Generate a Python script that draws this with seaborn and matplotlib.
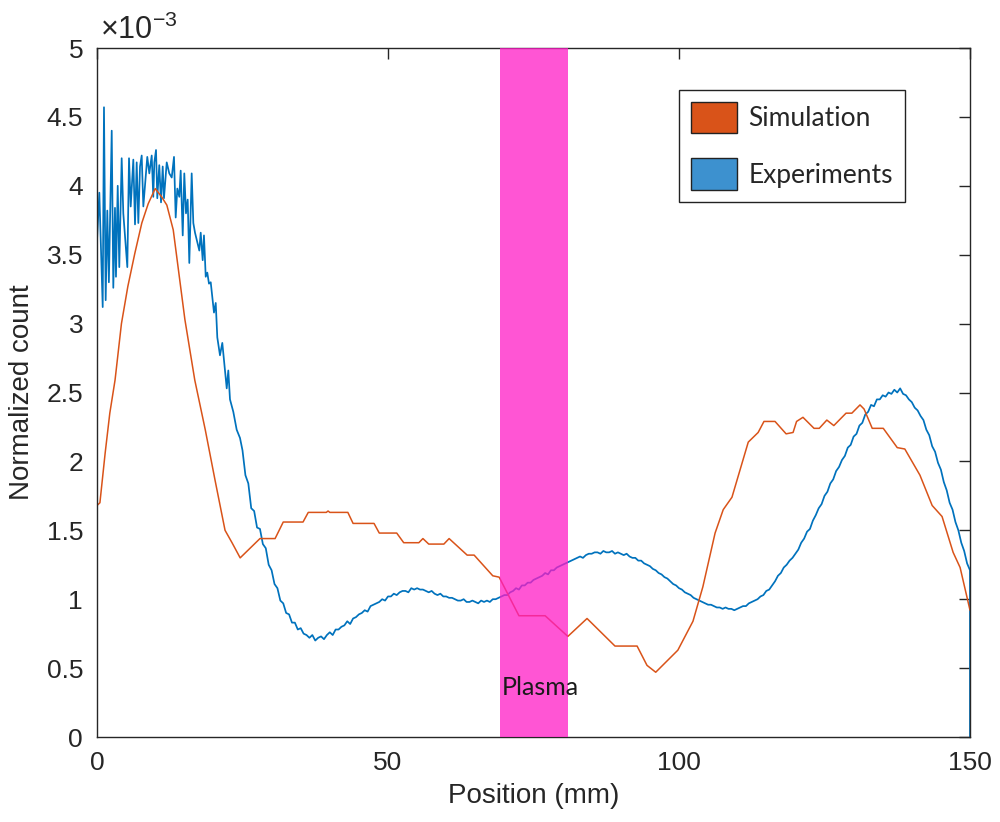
import numpy as np
import pandas as pd
import matplotlib
matplotlib.use("Agg")
import matplotlib.pyplot as plt
from matplotlib.patches import Patch
from matplotlib.ticker import FuncFormatter
import seaborn as sns

# ---- Simulation profile (position in mm, normalized count in units of 1e-3)
sim_pos = [0.0, 0.5, 1.4, 2.2, 3.1, 4.2, 5.3, 6.5, 7.7, 8.8, 10.0, 11.1, 12.0,
           13.1, 15.1, 16.8, 18.6, 20.3, 22.0, 23.2, 24.6, 28.0, 30.6, 32.0,
           35.4, 36.3, 39.4, 39.7, 40.0, 43.1, 44.0, 47.6, 48.5, 51.5, 52.7,
           55.3, 56.0, 57.0, 59.6, 60.5, 63.6, 64.8, 68.0, 69.1, 72.5, 77.0,
           80.9, 84.2, 89.0, 92.8, 94.5, 96.0, 99.8, 102.4, 104.1, 106.2,
           107.6, 109.1, 111.9, 113.6, 114.6, 116.5, 118.4, 119.6, 120.2,
           121.3, 123.2, 124.1, 125.4, 126.6, 128.7, 129.7, 131.1, 131.8,
           133.2, 135.1, 137.5, 138.8, 141.4, 143.5, 145.2, 147.1, 148.3, 150.0]
sim_count = [1.68, 1.70, 2.06, 2.35, 2.59, 3.00, 3.27, 3.51, 3.73, 3.87, 3.98,
             3.92, 3.86, 3.68, 3.03, 2.59, 2.23, 1.86, 1.50, 1.41, 1.30, 1.44,
             1.44, 1.56, 1.56, 1.63, 1.63, 1.64, 1.63, 1.63, 1.55, 1.55, 1.48,
             1.48, 1.41, 1.41, 1.44, 1.40, 1.40, 1.44, 1.32, 1.32, 1.17, 1.16,
             0.88, 0.88, 0.73, 0.86, 0.66, 0.66, 0.52, 0.47, 0.63, 0.84, 1.09,
             1.48, 1.65, 1.74, 2.14, 2.21, 2.29, 2.29, 2.20, 2.21, 2.29, 2.32,
             2.24, 2.24, 2.30, 2.26, 2.35, 2.35, 2.41, 2.38, 2.24, 2.24, 2.10,
             2.09, 1.90, 1.68, 1.60, 1.34, 1.23, 0.92]

# ---- Experimental profile, noisy head (irregular sampling)
exp_head_pos = [0.0, 0.40, 0.98, 1.20, 1.49, 1.77, 2.04, 2.53, 2.80, 3.09, 3.26,
                3.56, 3.83, 4.24, 4.52, 5.21, 5.50, 5.79, 6.24, 6.53, 6.82,
                7.10, 7.39, 7.68, 7.96, 8.64, 8.99, 9.40, 9.67, 9.85, 10.14,
                10.36, 10.70, 11.00, 11.29, 11.51, 11.98, 12.42, 12.84, 13.23,
                13.52, 13.80, 14.14, 14.38, 14.73, 15.00, 15.29, 15.58, 15.86,
                16.27, 16.55, 16.84, 17.58, 17.82, 18.16, 18.38, 18.68, 18.95,
                19.24, 19.54, 19.88, 20.10, 20.40, 20.67, 21.13, 21.53, 22.29,
                22.56, 22.85, 23.42, 24.00, 24.57]
exp_head_count = [3.60, 3.95, 3.12, 4.57, 3.17, 3.82, 3.30, 4.40, 3.26, 3.84,
                  3.34, 4.00, 3.41, 4.20, 3.80, 3.41, 4.20, 3.85, 4.19, 3.72,
                  4.17, 3.73, 4.14, 4.22, 3.85, 4.21, 4.09, 4.22, 3.92, 4.17,
                  4.26, 3.91, 4.15, 3.88, 4.14, 3.91, 4.17, 4.09, 4.06, 4.21,
                  3.77, 3.98, 3.92, 4.11, 3.64, 4.09, 3.80, 3.90, 3.44, 4.09,
                  3.73, 3.66, 3.53, 3.66, 3.46, 3.64, 3.34, 3.37, 3.29, 3.30,
                  3.17, 3.08, 3.15, 2.90, 2.77, 2.86, 2.53, 2.66, 2.45, 2.36,
                  2.23, 2.17]

# ---- Experimental profile, 0.5 mm steps from 25 mm
exp_tail_start = 25.0
exp_tail_step = 0.5
exp_tail_count = [
    2.08, 1.90, 1.84, 1.66, 1.64, 1.52, 1.51, 1.40, 1.37, 1.25,
    1.21, 1.11, 1.08, 0.99, 0.97, 0.90, 0.89, 0.83, 0.83, 0.78,
    0.79, 0.75, 0.74, 0.72, 0.74, 0.70, 0.72, 0.73, 0.71, 0.74,
    0.76, 0.74, 0.78, 0.78, 0.80, 0.81, 0.84, 0.82, 0.86, 0.87,
    0.89, 0.90, 0.92, 0.91, 0.95, 0.96, 0.97, 0.98, 1.00, 0.99,
    1.02, 1.02, 1.04, 1.03, 1.05, 1.06, 1.06, 1.05, 1.08, 1.07,
    1.08, 1.07, 1.07, 1.06, 1.05, 1.06, 1.04, 1.03, 1.04, 1.02,
    1.02, 1.01, 1.01, 1.00, 0.99, 0.99, 1.00, 0.98, 0.98, 0.99,
    0.98, 0.97, 0.99, 0.98, 0.99, 0.98, 1.00, 1.00, 1.01, 1.02,
    1.03, 1.03, 1.05, 1.06, 1.08, 1.07, 1.10, 1.10, 1.12, 1.12,
    1.14, 1.15, 1.16, 1.17, 1.19, 1.18, 1.21, 1.21, 1.23, 1.24,
    1.25, 1.26, 1.27, 1.28, 1.29, 1.30, 1.31, 1.30, 1.32, 1.33,
    1.33, 1.34, 1.34, 1.33, 1.35, 1.34, 1.34, 1.35, 1.33, 1.34,
    1.33, 1.32, 1.33, 1.31, 1.30, 1.30, 1.28, 1.28, 1.26, 1.25,
    1.24, 1.22, 1.21, 1.19, 1.18, 1.16, 1.15, 1.13, 1.11, 1.10,
    1.08, 1.07, 1.05, 1.04, 1.03, 1.01, 1.00, 0.99, 0.98, 0.97,
    0.96, 0.96, 0.95, 0.94, 0.94, 0.93, 0.94, 0.93, 0.93, 0.92,
    0.93, 0.94, 0.95, 0.95, 0.97, 0.98, 0.99, 1.00, 1.02, 1.03,
    1.06, 1.07, 1.10, 1.13, 1.17, 1.19, 1.23, 1.25, 1.28, 1.30,
    1.33, 1.36, 1.41, 1.44, 1.49, 1.51, 1.57, 1.61, 1.66, 1.69,
    1.75, 1.78, 1.84, 1.87, 1.93, 1.96, 2.01, 2.04, 2.10, 2.12,
    2.18, 2.20, 2.26, 2.28, 2.34, 2.36, 2.41, 2.40, 2.45, 2.45,
    2.48, 2.47, 2.50, 2.49, 2.52, 2.50, 2.53, 2.49, 2.48, 2.45,
    2.43, 2.39, 2.37, 2.33, 2.30, 2.23, 2.19, 2.11, 2.07, 1.99,
    1.94, 1.85, 1.79, 1.70, 1.65, 1.56, 1.50, 1.41, 1.35, 1.26,
]
exp_end_pos = [150.0, 150.0]
exp_end_count = [1.21, 0.0]

plasma_range = (69.2, 80.9)

x_ticks = [0, 50, 100, 150]
y_ticks = [0, 0.5, 1, 1.5, 2, 2.5, 3, 3.5, 4, 4.5, 5]

# ---- assemble tables
tail_pos = exp_tail_start + exp_tail_step * np.arange(len(exp_tail_count))
exp_df = pd.DataFrame({
    "pos": np.concatenate([exp_head_pos, tail_pos, exp_end_pos]),
    "count": np.concatenate([exp_head_count, exp_tail_count, exp_end_count]),
})
sim_df = pd.DataFrame({"pos": sim_pos, "count": sim_count})

sns.set_theme(style="white")
plt.rcParams["font.family"] = ["Liberation Sans", "DejaVu Sans"]
plt.rcParams["mathtext.default"] = "regular"

axcol = "#262626"
c_sim = "#D95319"
c_exp = "#0072BD"

fig = plt.figure(figsize=(10, 8.22), dpi=100)
ax = fig.add_axes([0.097, 0.1034, 0.873, 0.8382])

sns.lineplot(data=exp_df, x="pos", y="count", ax=ax, color=c_exp, lw=1.25,
             estimator=None, sort=False, zorder=2)
sns.lineplot(data=sim_df, x="pos", y="count", ax=ax, color=c_sim, lw=1.1,
             estimator=None, sort=False, zorder=2)

ax.axvspan(*plasma_range, color="#FF1CC6", alpha=0.75, lw=0, zorder=3)
ax.text(76.1, 0.36, "Plasma", ha="center", va="center",
        fontsize=18, family=["Lato", "DejaVu Sans"], color="#1a1a1a", zorder=4)

ax.set_xlim(0, 150)
ax.set_ylim(0, 5)
ax.set_xticks(x_ticks)
ax.set_yticks(y_ticks)
ax.yaxis.set_major_formatter(FuncFormatter(lambda v, p: f"{v:g}"))
ax.xaxis.set_major_formatter(FuncFormatter(lambda v, p: f"{v:g}"))

ax.tick_params(axis="both", which="major", direction="in", length=8,
               width=1.0, colors=axcol, labelsize=19, top=True, right=True,
               pad=10)
for s in ax.spines.values():
    s.set_color(axcol)
    s.set_linewidth(1.0)
    s.set_visible(True)

ax.set_xlabel("Position (mm)", fontsize=20, color=axcol, labelpad=6)
ax.set_ylabel("Normalized count", fontsize=20, color=axcol, labelpad=8)

ax.text(0.003, 1.003, r"$\times10^{-3}$", transform=ax.transAxes, ha="left",
        va="bottom", fontsize=22, color=axcol)

handles = [Patch(facecolor=c_sim, edgecolor="#222222", lw=1.0),
           Patch(facecolor="#3D91CF", edgecolor="#222222", lw=1.0)]
leg = ax.legend(handles, ["Simulation", "Experiments"], loc="upper right",
                bbox_to_anchor=(0.9255, 0.939), frameon=True, fancybox=False,
                edgecolor="#222222", framealpha=1.0, borderpad=0.45,
                handlelength=1.75, handleheight=1.45, handletextpad=0.45,
                labelspacing=0.95, borderaxespad=0.0,
                prop={"family": ["Lato", "DejaVu Sans"], "size": 19})
leg.get_frame().set_linewidth(1.0)
leg.set_zorder(5)

fig.savefig("out.png", dpi=100)
